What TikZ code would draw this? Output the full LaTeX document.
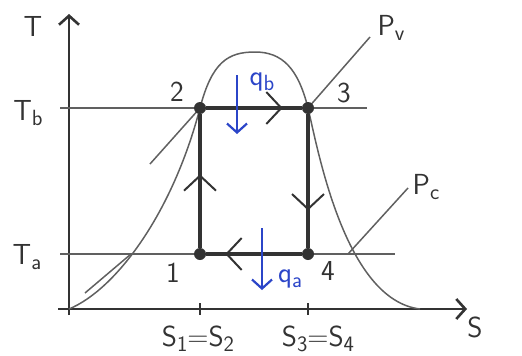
\documentclass[tikz,border=0pt]{standalone}
\usepackage{xcolor}
\usepackage{tikz}
\usetikzlibrary{arrows.meta,decorations.markings}

\definecolor{ink}{HTML}{333333}
\definecolor{pencil}{HTML}{606060}
\definecolor{qblue}{HTML}{2B45C8}

\newcommand{\lowsub}[1]{\raisebox{-0.4ex}{\fontsize{22}{22}\selectfont #1}}

\tikzset{
	pt/.style={circle,fill=ink,inner sep=0pt,minimum size=12pt},
	lbl/.style={text=ink,font=\sffamily\fontsize{29}{31}\selectfont,inner sep=0pt},
	thin line/.style={pencil,line width=1.5pt},
	cycle line/.style={ink,line width=3.4pt,
		postaction={decorate},
		decoration={markings,mark=at position #1 with {\arrow[ink,line width=2pt]{Straight Barb[length=15pt,width=32pt]}}}},
	cycle line/.default=0.5,
	heat/.style={qblue,line width=2.2pt,-{Straight Barb[length=9pt,width=20pt]}},
	axis/.style={ink,line width=2.6pt}
}

\begin{document}
\begin{tikzpicture}[x=1pt,y=-1pt]
	\useasboundingbox (0,0) rectangle (522,356);
	
	% axes
	\coordinate (o) at (69,309);
	\coordinate (ytop) at (69,14);
	\coordinate (xend) at (467,309);
	\draw[axis,-{Straight Barb[length=9pt,width=20pt]}] (69,315) -- (ytop);
	\draw[axis,-{Straight Barb[length=9pt,width=20pt]}] (58,309) -- (xend);
	\draw[axis] (200,303) -- (200,315);
	\draw[axis] (308,303) -- (308,315);
	
	% isotherms
	\draw[thin line] (60,108) -- (367,108);
	\draw[thin line] (60,254) -- (395,254);
	
	% saturation dome
	\draw[thin line] (69,309) .. controls (115,290) and (172,215) .. (200,108)
		.. controls (212,62) and (228,52) .. (255,52)
		.. controls (282,52) and (298,68) .. (308,108)
		.. controls (318,150) and (345,300) .. (420,309);
	
	% isobars
	\draw[thin line] (150,164) -- (200,108);
	\draw[thin line] (308,108) -- (370,37);
	\draw[thin line] (85,293) -- (131,254);
	\draw[thin line] (348,254) -- (408,188);
	
	% states
	\node[pt] (1) at (200,254) {};
	\node[pt] (2) at (200,108) {};
	\node[pt] (3) at (308,108) {};
	\node[pt] (4) at (308,254) {};
	
	\draw[cycle line=0.55] (1) -- (2);
	\draw[cycle line=0.8] (2) -- (3);
	\draw[cycle line=0.72] (3) -- (4);
	\draw[cycle line=0.8] (4) -- (1);
	
	% heat
	\coordinate (qbtop) at (237,75);
	\coordinate (qbbot) at (237,134);
	\coordinate (qatop) at (262,228);
	\coordinate (qabot) at (262,290);
	\draw[heat] (qbtop) -- (qbbot);
	\draw[heat] (qatop) -- (qabot);
	
	% labels
	\node[lbl] (tT) at (33,26) {T};
	\node[lbl] (tTb) at (28,113) {T\lowsub{b}};
	\node[lbl] (tTa) at (27,257) {T\lowsub{a}};
	\node[lbl] (t1) at (173,273) {1};
	\node[lbl] (t2) at (177,92) {2};
	\node[lbl] (t3) at (344,93) {3};
	\node[lbl] (t4) at (328,271) {4};
	\node[lbl,text=qblue] (tqb) at (262,82) {q\lowsub{b}};
	\node[lbl,text=qblue] (tqa) at (290,279) {q\lowsub{a}};
	\node[lbl] (tpv) at (391,28) {P\lowsub{v}};
	\node[lbl] (tpc) at (426,187) {P\lowsub{c}};
	\node[lbl] (tS) at (475,327) {S};
	\node[lbl] (ts12) at (198,339) {S\lowsub{1}=S\lowsub{2}};
	\node[lbl] (ts34) at (318,339) {S\lowsub{3}=S\lowsub{4}};
	
\end{tikzpicture}
\end{document}
